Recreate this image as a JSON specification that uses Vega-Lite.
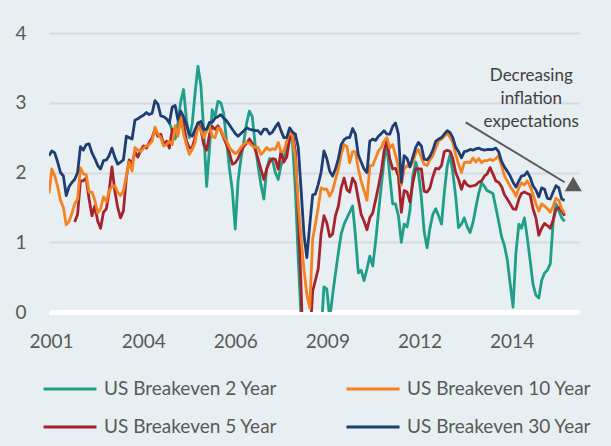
{
  "$schema": "https://vega.github.io/schema/vega-lite/v6.json",
  "width": 530,
  "height": 279,
  "autosize": {"type": "none"},
  "padding": {"left": 49, "top": 33, "right": 32, "bottom": 134},
  "background": "#E7EFF2",
  "config": {"view": {"stroke": null}, "font": "Lato"},
  "layer": [
    {
      "data": {"values": [
        {"d":"2001-06-01","y10":1.70,"y30":2.24},
        {"d":"2001-07-01","y10":2.05,"y30":2.31},
        {"d":"2001-08-01","y10":1.95,"y30":2.28},
        {"d":"2001-09-01","y10":1.80,"y30":2.15},
        {"d":"2001-10-01","y10":1.60,"y30":2.00},
        {"d":"2001-11-01","y10":1.50,"y30":1.95},
        {"d":"2001-12-01","y10":1.25,"y30":1.67},
        {"d":"2002-01-01","y10":1.30,"y30":1.80},
        {"d":"2002-02-01","y10":1.42,"y30":1.86},
        {"d":"2002-03-01","y5":1.29,"y10":1.55,"y30":1.90},
        {"d":"2002-04-01","y5":1.40,"y10":1.62,"y30":2.00},
        {"d":"2002-05-01","y5":1.88,"y10":2.07,"y30":2.37},
        {"d":"2002-06-01","y5":1.88,"y10":1.98,"y30":2.32},
        {"d":"2002-07-01","y5":1.92,"y10":1.97,"y30":2.40},
        {"d":"2002-08-01","y5":1.62,"y10":1.72,"y30":2.41},
        {"d":"2002-09-01","y5":1.38,"y10":1.72,"y30":2.28},
        {"d":"2002-10-01","y5":1.52,"y10":1.60,"y30":2.20},
        {"d":"2002-11-01","y5":1.30,"y10":1.42,"y30":2.10},
        {"d":"2002-12-01","y5":1.20,"y10":1.48,"y30":2.05},
        {"d":"2003-01-01","y5":1.43,"y10":1.65,"y30":2.17},
        {"d":"2003-02-01","y5":1.48,"y10":1.58,"y30":2.18},
        {"d":"2003-03-01","y5":1.72,"y10":1.74,"y30":2.24},
        {"d":"2003-04-01","y5":2.08,"y10":1.80,"y30":2.35},
        {"d":"2003-05-01","y5":1.74,"y10":1.81,"y30":2.22},
        {"d":"2003-06-01","y5":1.50,"y10":1.72,"y30":2.12},
        {"d":"2003-07-01","y5":1.35,"y10":1.67,"y30":2.15},
        {"d":"2003-08-01","y5":1.45,"y10":1.74,"y30":2.18},
        {"d":"2003-09-01","y5":1.93,"y10":1.95,"y30":2.52},
        {"d":"2003-10-01","y5":2.18,"y10":2.15,"y30":2.50},
        {"d":"2003-11-01","y5":2.12,"y10":2.02,"y30":2.48},
        {"d":"2003-12-01","y5":2.30,"y10":2.36,"y30":2.75},
        {"d":"2004-01-01","y5":2.22,"y10":2.32,"y30":2.77},
        {"d":"2004-02-01","y5":2.32,"y10":2.30,"y30":2.80},
        {"d":"2004-03-01","y5":2.38,"y10":2.35,"y30":2.82},
        {"d":"2004-04-01","y5":2.35,"y10":2.38,"y30":2.86},
        {"d":"2004-05-01","y5":2.43,"y10":2.40,"y30":2.83},
        {"d":"2004-06-01","y5":2.50,"y10":2.45,"y30":2.85},
        {"d":"2004-07-01","y5":2.62,"y10":2.65,"y30":3.03},
        {"d":"2004-08-01","y5":2.52,"y10":2.55,"y30":2.98},
        {"d":"2004-09-01","y5":2.55,"y10":2.50,"y30":2.81},
        {"d":"2004-10-01","y5":2.40,"y10":2.38,"y30":2.80},
        {"d":"2004-11-01","y5":2.45,"y10":2.40,"y30":2.77},
        {"d":"2004-12-01","y2":2.72,"y5":2.35,"y10":2.45,"y30":2.71},
        {"d":"2005-01-01","y2":2.60,"y5":2.62,"y10":2.40,"y30":2.94},
        {"d":"2005-02-01","y2":2.48,"y5":2.60,"y10":2.67,"y30":2.96},
        {"d":"2005-03-01","y2":2.70,"y5":2.55,"y10":2.52,"y30":2.76},
        {"d":"2005-04-01","y2":3.02,"y5":2.80,"y10":2.79,"y30":2.88},
        {"d":"2005-05-01","y2":3.19,"y5":2.70,"y10":2.55,"y30":2.80},
        {"d":"2005-06-01","y2":2.75,"y5":2.45,"y10":2.40,"y30":2.68},
        {"d":"2005-07-01","y2":2.50,"y5":2.35,"y10":2.26,"y30":2.55},
        {"d":"2005-08-01","y2":2.70,"y5":2.36,"y10":2.33,"y30":2.52},
        {"d":"2005-09-01","y2":3.15,"y5":2.50,"y10":2.43,"y30":2.62},
        {"d":"2005-10-01","y2":3.52,"y5":2.71,"y10":2.67,"y30":2.71},
        {"d":"2005-11-01","y2":3.25,"y5":2.62,"y10":2.60,"y30":2.73},
        {"d":"2005-12-01","y2":2.60,"y5":2.40,"y10":2.50,"y30":2.62},
        {"d":"2006-01-01","y2":1.80,"y5":2.32,"y10":2.60,"y30":2.62},
        {"d":"2006-02-01","y2":2.36,"y5":2.55,"y10":2.66,"y30":2.72},
        {"d":"2006-03-01","y2":2.90,"y5":2.66,"y10":2.52,"y30":2.72},
        {"d":"2006-04-01","y2":2.80,"y5":2.62,"y10":2.50,"y30":2.78},
        {"d":"2006-05-01","y2":3.02,"y5":2.67,"y10":2.64,"y30":2.80},
        {"d":"2006-06-01","y2":3.00,"y5":2.60,"y10":2.62,"y30":2.83},
        {"d":"2006-07-01","y2":2.85,"y5":2.50,"y10":2.52,"y30":2.78},
        {"d":"2006-08-01","y2":2.45,"y5":2.40,"y10":2.45,"y30":2.74},
        {"d":"2006-09-01","y2":2.05,"y5":2.28,"y10":2.36,"y30":2.68},
        {"d":"2006-10-01","y2":1.75,"y5":2.12,"y10":2.31,"y30":2.62},
        {"d":"2006-11-01","y2":1.19,"y5":2.14,"y10":2.27,"y30":2.56},
        {"d":"2006-12-01","y2":1.88,"y5":2.20,"y10":2.30,"y30":2.52},
        {"d":"2007-01-01","y2":2.20,"y5":2.30,"y10":2.36,"y30":2.56},
        {"d":"2007-02-01","y2":2.45,"y5":2.38,"y10":2.41,"y30":2.60},
        {"d":"2007-03-01","y2":2.70,"y5":2.42,"y10":2.43,"y30":2.64},
        {"d":"2007-04-01","y2":2.88,"y5":2.48,"y10":2.42,"y30":2.62},
        {"d":"2007-05-01","y2":2.80,"y5":2.42,"y10":2.38,"y30":2.61},
        {"d":"2007-06-01","y2":2.40,"y5":2.33,"y10":2.36,"y30":2.60},
        {"d":"2007-07-01","y2":2.10,"y5":2.20,"y10":2.36,"y30":2.60},
        {"d":"2007-08-01","y2":1.83,"y5":2.05,"y10":2.26,"y30":2.55},
        {"d":"2007-09-01","y2":1.62,"y5":1.90,"y10":2.30,"y30":2.62},
        {"d":"2007-10-01","y2":2.05,"y5":2.05,"y10":2.36,"y30":2.62},
        {"d":"2007-11-01","y2":2.20,"y5":2.15,"y10":2.32,"y30":2.55},
        {"d":"2007-12-01","y2":2.18,"y5":2.20,"y10":2.34,"y30":2.58},
        {"d":"2008-01-01","y2":2.00,"y5":2.19,"y10":2.33,"y30":2.65},
        {"d":"2008-02-01","y2":1.90,"y5":2.05,"y10":2.43,"y30":2.71},
        {"d":"2008-03-01","y2":2.10,"y5":2.30,"y10":2.30,"y30":2.60},
        {"d":"2008-04-01","y2":2.20,"y5":2.15,"y10":2.30,"y30":2.50},
        {"d":"2008-05-01","y2":2.35,"y5":2.22,"y10":2.45,"y30":2.50},
        {"d":"2008-06-01","y2":2.55,"y5":2.48,"y10":2.60,"y30":2.64},
        {"d":"2008-07-01","y2":2.45,"y5":2.58,"y10":2.52,"y30":2.58},
        {"d":"2008-08-01","y2":1.75,"y5":2.30,"y10":2.20,"y30":2.55},
        {"d":"2008-09-01","y2":0.75,"y5":1.40,"y10":1.55,"y30":2.36},
        {"d":"2008-10-01","y2":-0.10,"y5":0.35,"y10":1.05,"y30":1.75},
        {"d":"2008-11-01","y2":-1.5,"y5":-1.0,"y10":0.60,"y30":1.10},
        {"d":"2008-12-01","y2":-2.5,"y5":-2.0,"y10":0.25,"y30":0.78},
        {"d":"2009-01-01","y2":-2.5,"y5":-0.4,"y10":0.06,"y30":1.25},
        {"d":"2009-02-01","y2":-2.0,"y5":0.30,"y10":1.05,"y30":1.68},
        {"d":"2009-03-01","y2":-1.5,"y5":0.45,"y10":1.25,"y30":1.69},
        {"d":"2009-04-01","y2":-1.0,"y5":0.62,"y10":1.50,"y30":1.83},
        {"d":"2009-05-01","y2":-0.3,"y5":1.12,"y10":1.78,"y30":2.00},
        {"d":"2009-06-01","y2":0.36,"y5":1.38,"y10":1.76,"y30":2.31},
        {"d":"2009-07-01","y2":0.33,"y5":1.28,"y10":1.76,"y30":2.20},
        {"d":"2009-08-01","y2":-0.10,"y5":1.08,"y10":1.66,"y30":2.02},
        {"d":"2009-09-01","y2":0.25,"y5":1.12,"y10":1.74,"y30":1.95},
        {"d":"2009-10-01","y2":0.55,"y5":1.38,"y10":1.90,"y30":2.05},
        {"d":"2009-11-01","y2":0.85,"y5":1.52,"y10":2.05,"y30":2.20},
        {"d":"2009-12-01","y2":1.12,"y5":1.78,"y10":2.26,"y30":2.40},
        {"d":"2010-01-01","y2":1.26,"y5":1.92,"y10":2.40,"y30":2.47},
        {"d":"2010-02-01","y2":1.35,"y5":1.75,"y10":2.37,"y30":2.50},
        {"d":"2010-03-01","y2":1.43,"y5":1.72,"y10":2.14,"y30":2.50},
        {"d":"2010-04-01","y2":1.52,"y5":1.92,"y10":2.30,"y30":2.63},
        {"d":"2010-05-01","y2":1.10,"y5":1.85,"y10":2.30,"y30":2.55},
        {"d":"2010-06-01","y2":0.56,"y5":1.62,"y10":2.05,"y30":2.25},
        {"d":"2010-07-01","y2":0.60,"y5":1.40,"y10":1.88,"y30":2.15},
        {"d":"2010-08-01","y2":0.45,"y5":1.30,"y10":1.74,"y30":2.05},
        {"d":"2010-09-01","y2":0.62,"y5":1.18,"y10":1.60,"y30":2.00},
        {"d":"2010-10-01","y2":0.80,"y5":1.35,"y10":2.10,"y30":2.45},
        {"d":"2010-11-01","y2":0.66,"y5":1.42,"y10":2.10,"y30":2.48},
        {"d":"2010-12-01","y2":1.00,"y5":1.60,"y10":2.20,"y30":2.46},
        {"d":"2011-01-01","y2":1.42,"y5":1.80,"y10":2.31,"y30":2.52},
        {"d":"2011-02-01","y2":1.82,"y5":2.02,"y10":2.36,"y30":2.56},
        {"d":"2011-03-01","y2":2.17,"y5":2.30,"y10":2.45,"y30":2.60},
        {"d":"2011-04-01","y2":2.40,"y5":2.47,"y10":2.50,"y30":2.55},
        {"d":"2011-05-01","y2":1.95,"y5":2.20,"y10":2.35,"y30":2.55},
        {"d":"2011-06-01","y2":1.55,"y5":2.05,"y10":2.40,"y30":2.66},
        {"d":"2011-07-01","y2":1.55,"y5":2.06,"y10":2.25,"y30":2.71},
        {"d":"2011-08-01","y2":1.38,"y5":1.95,"y10":2.08,"y30":2.55},
        {"d":"2011-09-01","y2":1.00,"y5":1.43,"y10":1.82,"y30":1.86},
        {"d":"2011-10-01","y2":1.26,"y5":1.74,"y10":2.05,"y30":2.24},
        {"d":"2011-11-01","y2":1.22,"y5":1.72,"y10":2.10,"y30":2.20},
        {"d":"2011-12-01","y2":1.45,"y5":1.58,"y10":2.08,"y30":2.08},
        {"d":"2012-01-01","y2":1.95,"y5":1.85,"y10":2.15,"y30":2.22},
        {"d":"2012-02-01","y2":2.15,"y5":2.05,"y10":2.28,"y30":2.36},
        {"d":"2012-03-01","y2":2.00,"y5":2.05,"y10":2.33,"y30":2.43},
        {"d":"2012-04-01","y2":1.64,"y5":2.05,"y10":2.21,"y30":2.38},
        {"d":"2012-05-01","y2":1.15,"y5":1.73,"y10":2.12,"y30":2.19},
        {"d":"2012-06-01","y2":0.92,"y5":1.72,"y10":2.10,"y30":2.18},
        {"d":"2012-07-01","y2":1.20,"y5":1.78,"y10":2.18,"y30":2.23},
        {"d":"2012-08-01","y2":1.40,"y5":1.94,"y10":2.24,"y30":2.32},
        {"d":"2012-09-01","y2":1.48,"y5":2.06,"y10":2.35,"y30":2.45},
        {"d":"2012-10-01","y2":1.38,"y5":2.05,"y10":2.45,"y30":2.48},
        {"d":"2012-11-01","y2":1.26,"y5":2.10,"y10":2.48,"y30":2.50},
        {"d":"2012-12-01","y2":1.72,"y5":2.30,"y10":2.52,"y30":2.55},
        {"d":"2013-01-01","y2":2.10,"y5":2.32,"y10":2.57,"y30":2.60},
        {"d":"2013-02-01","y2":2.26,"y5":2.30,"y10":2.50,"y30":2.57},
        {"d":"2013-03-01","y2":2.00,"y5":2.20,"y10":2.43,"y30":2.50},
        {"d":"2013-04-01","y2":1.65,"y5":2.00,"y10":2.26,"y30":2.36},
        {"d":"2013-05-01","y2":1.21,"y5":1.90,"y10":2.12,"y30":2.30},
        {"d":"2013-06-01","y2":1.26,"y5":1.76,"y10":2.00,"y30":2.21},
        {"d":"2013-07-01","y2":1.35,"y5":1.88,"y10":2.14,"y30":2.30},
        {"d":"2013-08-01","y2":1.22,"y5":1.82,"y10":2.15,"y30":2.31},
        {"d":"2013-09-01","y2":1.14,"y5":1.80,"y10":2.14,"y30":2.33},
        {"d":"2013-10-01","y2":1.28,"y5":1.81,"y10":2.21,"y30":2.32},
        {"d":"2013-11-01","y2":1.50,"y5":1.82,"y10":2.15,"y30":2.34},
        {"d":"2013-12-01","y2":1.70,"y5":1.86,"y10":2.20,"y30":2.35},
        {"d":"2014-01-01","y2":1.85,"y5":1.88,"y10":2.14,"y30":2.33},
        {"d":"2014-02-01","y2":1.80,"y5":1.95,"y10":2.17,"y30":2.32},
        {"d":"2014-03-01","y2":1.74,"y5":1.98,"y10":2.17,"y30":2.33},
        {"d":"2014-04-01","y2":1.72,"y5":2.07,"y10":2.19,"y30":2.33},
        {"d":"2014-05-01","y2":1.70,"y5":1.98,"y10":2.17,"y30":2.33},
        {"d":"2014-06-01","y2":1.50,"y5":1.88,"y10":2.20,"y30":2.35},
        {"d":"2014-07-01","y2":1.30,"y5":1.86,"y10":2.24,"y30":2.30},
        {"d":"2014-08-01","y2":1.08,"y5":1.80,"y10":2.10,"y30":2.16},
        {"d":"2014-09-01","y2":0.95,"y5":1.68,"y10":1.95,"y30":2.08},
        {"d":"2014-10-01","y2":0.75,"y5":1.62,"y10":1.88,"y30":2.02},
        {"d":"2014-11-01","y2":0.40,"y5":1.55,"y10":1.80,"y30":1.95},
        {"d":"2014-12-01","y2":0.07,"y5":1.48,"y10":1.74,"y30":1.86},
        {"d":"2015-01-01","y2":0.85,"y5":1.47,"y10":1.66,"y30":1.79},
        {"d":"2015-02-01","y2":1.26,"y5":1.62,"y10":1.78,"y30":1.88},
        {"d":"2015-03-01","y2":1.20,"y5":1.70,"y10":1.85,"y30":1.95},
        {"d":"2015-04-01","y2":1.35,"y5":1.72,"y10":1.82,"y30":1.96},
        {"d":"2015-05-01","y2":1.07,"y5":1.70,"y10":1.88,"y30":2.01},
        {"d":"2015-06-01","y2":0.74,"y5":1.68,"y10":1.80,"y30":1.93},
        {"d":"2015-07-01","y2":0.40,"y5":1.48,"y10":1.69,"y30":1.81},
        {"d":"2015-08-01","y2":0.24,"y5":1.35,"y10":1.55,"y30":1.75},
        {"d":"2015-09-01","y2":0.20,"y5":1.10,"y10":1.45,"y30":1.65},
        {"d":"2015-10-01","y2":0.45,"y5":1.20,"y10":1.55,"y30":1.78},
        {"d":"2015-11-01","y2":0.56,"y5":1.27,"y10":1.52,"y30":1.76},
        {"d":"2015-12-01","y2":0.60,"y5":1.24,"y10":1.48,"y30":1.63},
        {"d":"2016-01-01","y2":0.69,"y5":1.20,"y10":1.43,"y30":1.62},
        {"d":"2016-02-01","y2":1.30,"y5":1.32,"y10":1.52,"y30":1.72},
        {"d":"2016-03-01","y2":1.55,"y5":1.47,"y10":1.63,"y30":1.81},
        {"d":"2016-04-01","y2":1.45,"y5":1.50,"y10":1.60,"y30":1.78},
        {"d":"2016-05-01","y2":1.35,"y5":1.45,"y10":1.48,"y30":1.62},
        {"d":"2016-06-01","y2":1.30,"y5":1.38,"y10":1.42,"y30":1.60}
      ]},
      "transform": [{"fold": ["y2", "y5", "y10", "y30"], "as": ["k", "v"]}],
      "mark": {"type": "line", "strokeWidth": 2.8, "clip": true, "strokeJoin": "round"},
      "encoding": {
        "x": {
          "field": "d", "type": "temporal", "title": null,
          "scale": {"type": "utc", "domain": [{"year": 2001, "month": 6, "date": 1, "utc": true}, {"year": 2016, "month": 11, "date": 1, "utc": true}]},
          "axis": {
            "values": [
              {"year": 2001, "month": 6, "date": 22, "utc": true},
              {"year": 2004, "month": 2, "date": 28, "utc": true},
              {"year": 2006, "month": 11, "date": 1, "utc": true},
              {"year": 2009, "month": 7, "date": 7, "utc": true},
              {"year": 2012, "month": 3, "date": 13, "utc": true},
              {"year": 2014, "month": 11, "date": 16, "utc": true}
            ],
            "format": "%Y",
            "labelFontSize": 19,
            "labelColor": "#595959",
            "labelFont": "Lato",
            "labelPadding": 20,
            "ticks": false,
            "grid": false,
            "domain": true,
            "domainColor": "#FFFFFF",
            "domainWidth": 5,
            "labelFlush": false,
            "labelOverlap": false
          }
        },
        "y": {
          "field": "v", "type": "quantitative", "title": null,
          "scale": {"domain": [0, 4], "nice": false, "zero": false},
          "axis": {
            "values": [0, 1, 2, 3, 4],
            "format": "d",
            "labelFontSize": 19,
            "labelColor": "#595959",
            "labelFont": "Lato",
            "labelPadding": 23,
            "ticks": false,
            "domain": false,
            "grid": true,
            "gridColor": {"condition": {"test": "datum.value === 0", "value": "#FFFFFF"}, "value": "#D5DBDE"},
            "gridWidth": 2
          }
        },
        "color": {
          "field": "k", "type": "nominal",
          "scale": {"domain": ["y2", "y10", "y5", "y30"], "range": ["#1F9E89", "#F58220", "#A6232E", "#1F3D73"]},
          "legend": {
            "title": null,
            "orient": "none",
            "legendX": -7,
            "legendY": 328,
            "direction": "horizontal",
            "columns": 2,
            "columnPadding": 62,
            "rowPadding": -14,
            "symbolType": "stroke",
            "symbolSize": 2809,
            "symbolStrokeWidth": 3,
            "labelFontSize": 19,
            "labelFont": "Lato",
            "labelColor": "#595959",
            "labelOffset": 6,
            "labelLimit": 300,
            "labelExpr": "{'y2': 'US Breakeven 2 Year', 'y5': 'US Breakeven 5 Year', 'y10': 'US Breakeven 10 Year', 'y30': 'US Breakeven 30 Year'}[datum.value]"
          }
        }
      }
    },
    {
      "data": {"values": [{"d": "2013-07-16", "v": 2.72, "d2": "2016-06-01", "v2": 1.86}]},
      "mark": {"type": "rule", "color": "#595959", "strokeWidth": 2},
      "encoding": {
        "x": {"field": "d", "type": "temporal", "title": null},
        "y": {"field": "v", "type": "quantitative", "title": null},
        "x2": {"field": "d2"},
        "y2": {"field": "v2"}
      }
    },
    {
      "data": {"values": [{"d": "2016-09-01", "v": 1.835}]},
      "mark": {"type": "point", "shape": "triangle-up", "filled": true, "size": 289, "color": "#595959", "opacity": 1},
      "encoding": {
        "x": {"field": "d", "type": "temporal", "title": null},
        "y": {"field": "v", "type": "quantitative", "title": null}
      }
    },
    {
      "data": {"values": [{"d": "2015-06-13", "v": 3.38, "t": "Decreasing\ninflation\nexpectations"}]},
      "mark": {"type": "text", "lineBreak": "\n", "fontSize": 17, "lineHeight": 23, "color": "#404040", "font": "Lato", "align": "center", "baseline": "middle"},
      "encoding": {
        "x": {"field": "d", "type": "temporal", "title": null},
        "y": {"field": "v", "type": "quantitative", "title": null},
        "text": {"field": "t"}
      }
    }
  ]
}
